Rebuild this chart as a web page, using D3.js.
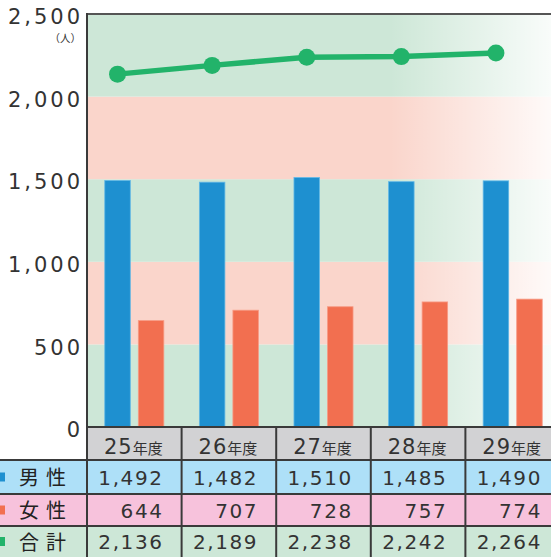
<!DOCTYPE html>
<html><head><meta charset="utf-8">
<script src="https://cdn.jsdelivr.net/npm/d3@7"></script>
<style>
html,body{margin:0;padding:0;background:#fff;}
svg{display:block;}
</style>
</head><body>
<svg id="c" width="551" height="557"></svg>
<script>
const years = ["25", "26", "27", "28", "29"];
const yearSuffix = "年度";
const male = [1492, 1482, 1510, 1485, 1490];
const female = [644, 707, 728, 757, 774];
const total = [2136, 2189, 2238, 2242, 2264];
const yTicks = [0, 500, 1000, 1500, 2000, 2500];
const unitLabel = "（人）";
const seriesNames = ["男性", "女性", "合計"];
const seriesColors = ["#1e90d0", "#f26f50", "#22b36a"];
const rowColors = ["#aee0f8", "#f7c2dc", "#cde7d7"];
const bandColors = ["#cde7d7", "#fad5cb"];

const svg = d3.select("#c");
const W = 551, H = 557;
const plotLeft = 87, plotTop = 14, plotBottom = 427;
const rowY = [427, 460, 494, 526, 557];
const numFont = "'DejaVu Sans', 'Noto Sans', sans-serif";
const jpFont = "'Noto Sans CJK JP', sans-serif";

const y = d3.scaleLinear().domain([0, 2500]).range([plotBottom, plotTop]);
const x = d3.scaleBand().domain(years).range([plotLeft, 560]);
const xi = d3.scaleBand().domain(["m", "f"]).range([0, x.bandwidth()])
  .paddingInner(0.239).paddingOuter(0.53);

// gradient for fade
const defs = svg.append("defs");
const g1 = defs.append("linearGradient").attr("id", "fade")
  .attr("gradientUnits", "userSpaceOnUse").attr("x1", 390).attr("x2", 551).attr("y1", 0).attr("y2", 0);
g1.append("stop").attr("offset", 0).attr("stop-color", "#fff").attr("stop-opacity", 0);
g1.append("stop").attr("offset", 1).attr("stop-color", "#fff").attr("stop-opacity", 0.88);

// background bands
const bands = d3.range(yTicks.length - 1).map(i => ({a: yTicks[i], b: yTicks[i + 1], i}));
svg.append("g").selectAll("rect").data(bands).join("rect")
  .attr("x", plotLeft).attr("width", W - plotLeft)
  .attr("y", d => y(d.b)).attr("height", d => y(d.a) - y(d.b))
  .attr("fill", d => bandColors[d.i % 2]);
svg.append("rect").attr("x", plotLeft).attr("width", W - plotLeft)
  .attr("y", y(2500)).attr("height", y(0) - y(2500)).attr("fill", "url(#fade)");

// bars
const gb = svg.append("g");
years.forEach((yr, i) => {
  [["m", male[i], seriesColors[0], "#62b8e6"], ["f", female[i], seriesColors[1], "#f79a84"]].forEach(([k, v, c, s]) => {
    gb.append("rect")
      .attr("x", x(yr) + xi(k)).attr("width", xi.bandwidth())
      .attr("y", y(v)).attr("height", y(0) - y(v))
      .attr("fill", c).attr("stroke", s).attr("stroke-width", 0.8);
  });
});

// line
const lineX = i => x(years[i]) + xi("m") + xi.bandwidth() / 2;
const line = d3.line().x((d, i) => lineX(i)).y(d => y(d));
svg.append("path").datum(total).attr("d", line)
  .attr("fill", "none").attr("stroke", seriesColors[2]).attr("stroke-width", 5.5);
svg.append("g").selectAll("circle").data(total).join("circle")
  .attr("cx", (d, i) => lineX(i)).attr("cy", d => y(d)).attr("r", 8.5)
  .attr("fill", seriesColors[2]);

// y axis
const ax = svg.append("g").attr("transform", `translate(${plotLeft},0)`)
  .call(d3.axisLeft(y).tickValues(yTicks).tickFormat(d3.format(",")).tickSize(0).tickPadding(4));
ax.select(".domain").remove();
ax.selectAll("text").attr("font-family", numFont).attr("font-size", 21)
  .attr("letter-spacing", 3)
  .attr("fill", "#333").attr("dy", "0.46em");
svg.append("text").attr("x", 81).attr("y", 42).attr("text-anchor", "end")
  .attr("font-family", jpFont).attr("font-size", 10.5).attr("fill", "#333").text(unitLabel);

// table backgrounds
years.forEach(yr => {
  svg.append("rect").attr("x", x(yr)).attr("width", x.bandwidth())
    .attr("y", rowY[0]).attr("height", rowY[1] - rowY[0]).attr("fill", "#d2d2d4");
});
rowColors.forEach((c, r) => {
  svg.append("rect").attr("x", 0).attr("width", W)
    .attr("y", rowY[r + 1]).attr("height", rowY[r + 2] - rowY[r + 1]).attr("fill", c);
});

// header text
years.forEach(yr => {
  const t = svg.append("text").attr("x", x(yr) + x.bandwidth() / 2 - 1).attr("y", 453.5)
    .attr("text-anchor", "middle").attr("fill", "#333");
  t.append("tspan").attr("font-family", numFont).attr("font-size", 21).attr("letter-spacing", 1).text(yr);
  t.append("tspan").attr("font-family", jpFont).attr("font-size", 15).text(yearSuffix);
});

// values
const fmt = d3.format(",");
[male, female, total].forEach((arr, r) => {
  const cy = (rowY[r + 1] + rowY[r + 2]) / 2;
  arr.forEach((v, i) => {
    svg.append("text").attr("x", x(years[i]) + x.bandwidth() - 18).attr("y", cy + 7.5)
      .attr("text-anchor", "end").attr("font-family", numFont).attr("font-size", 20)
      .attr("letter-spacing", 1.6)
      .attr("fill", "#333").text(fmt(v));
  });
  svg.append("rect").attr("x", -4).attr("y", cy - 4.5).attr("width", 9).attr("height", 9)
    .attr("fill", seriesColors[r]);
  svg.append("text").attr("x", 19).attr("y", cy + 8).attr("font-family", jpFont)
    .attr("font-size", 20).attr("letter-spacing", 7).attr("fill", "#222").text(seriesNames[r]);
});

// grid lines of table
const lc = "#3a3a3a";
svg.append("line").attr("x1", plotLeft).attr("x2", W).attr("y1", rowY[0]).attr("y2", rowY[0])
  .attr("stroke", lc).attr("stroke-width", 2);
[rowY[1], rowY[2], rowY[3]].forEach(yy => {
  svg.append("line").attr("x1", 0).attr("x2", W).attr("y1", yy).attr("y2", yy)
    .attr("stroke", lc).attr("stroke-width", 2);
});
years.slice(1).forEach(yr => {
  svg.append("line").attr("x1", x(yr)).attr("x2", x(yr)).attr("y1", rowY[0]).attr("y2", H)
    .attr("stroke", lc).attr("stroke-width", 2);
});
// frame
svg.append("line").attr("x1", plotLeft).attr("x2", W).attr("y1", plotTop).attr("y2", plotTop)
  .attr("stroke", "#555").attr("stroke-width", 2);
svg.append("line").attr("x1", plotLeft).attr("x2", plotLeft).attr("y1", plotTop - 1).attr("y2", H)
  .attr("stroke", lc).attr("stroke-width", 2);
</script>
</body></html>
